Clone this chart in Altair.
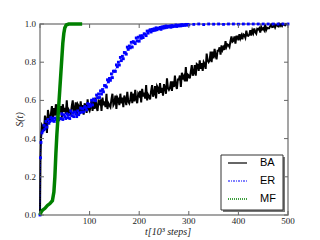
import altair as alt
import pandas as pd

# ---------------- data ----------------
BA_t = [0, 1] + list(range(2, 502, 2))
BA_s = [0.00, 0.30,
        0.40, 0.47, 0.46, 0.44, 0.52, 0.50, 0.43, 0.55, 0.51, 0.50,
        0.53, 0.57, 0.51, 0.56, 0.52, 0.58, 0.53, 0.51, 0.56, 0.55,
        0.57, 0.51, 0.58, 0.54, 0.56, 0.53, 0.60, 0.52, 0.55, 0.54,
        0.53, 0.57, 0.60, 0.54, 0.55, 0.59, 0.52, 0.58, 0.57, 0.54,
        0.595, 0.545, 0.575, 0.525, 0.585, 0.565, 0.535, 0.605, 0.555, 0.545,
        0.565, 0.605, 0.545, 0.595, 0.555, 0.615, 0.565, 0.545, 0.595, 0.585,
        0.605, 0.545, 0.615, 0.575, 0.595, 0.565, 0.635, 0.555, 0.585, 0.575,
        0.565, 0.605, 0.635, 0.575, 0.585, 0.625, 0.555, 0.615, 0.605, 0.575,
        0.635, 0.585, 0.615, 0.565, 0.625, 0.605, 0.575, 0.645, 0.595, 0.585,
        0.605, 0.645, 0.585, 0.635, 0.595, 0.655, 0.605, 0.585, 0.635, 0.625,
        0.65, 0.59, 0.66, 0.62, 0.64, 0.61, 0.68, 0.60, 0.63, 0.62,
        0.605, 0.65, 0.68, 0.62, 0.635, 0.675, 0.61, 0.675, 0.665, 0.635,
        0.69, 0.64, 0.665, 0.625, 0.685, 0.665, 0.635, 0.715, 0.665, 0.655,
        0.665, 0.70, 0.65, 0.70, 0.67, 0.73, 0.68, 0.66, 0.71, 0.71,
        0.73, 0.67, 0.745, 0.71, 0.725, 0.70, 0.775, 0.70, 0.735, 0.73,
        0.715, 0.75, 0.785, 0.73, 0.745, 0.785, 0.73, 0.79, 0.785, 0.755,
        0.81, 0.765, 0.795, 0.755, 0.80, 0.79, 0.765, 0.845, 0.81, 0.80,
        0.81, 0.855, 0.80, 0.855, 0.82, 0.87, 0.835, 0.815, 0.86, 0.86,
        0.878, 0.84, 0.888, 0.865, 0.878, 0.865, 0.91, 0.88, 0.893, 0.89,
        0.88, 0.91, 0.935, 0.907, 0.912, 0.935, 0.897, 0.935, 0.935, 0.915,
        0.947, 0.925, 0.94, 0.92, 0.946, 0.942, 0.929, 0.965, 0.94, 0.938,
        0.945, 0.967, 0.94, 0.966, 0.952, 0.977, 0.958, 0.95, 0.975, 0.972,
        0.978, 0.955, 0.984, 0.972, 0.978, 0.968, 0.997, 0.968, 0.98, 0.978,
        0.978, 0.988, 0.996, 0.984, 0.985, 0.995, 0.982, 0.995, 0.993, 0.988,
        1.0, 0.99, 0.998, 0.99, 1.0, 0.997, 0.993, 1.0, 0.998, 1.0]

ER_t = [0, 1] + list(range(2, 302, 2)) + list(range(310, 501, 10))
ER_s = [0.00, 0.30,
        0.38, 0.43, 0.44, 0.47, 0.45, 0.49, 0.46, 0.50, 0.48, 0.49,
        0.51, 0.495, 0.505, 0.49, 0.508, 0.50, 0.49, 0.513, 0.498, 0.505,
        0.505, 0.53, 0.50, 0.525, 0.515, 0.505, 0.53, 0.51, 0.525, 0.505,
        0.545, 0.52, 0.535, 0.515, 0.54, 0.53, 0.515, 0.545, 0.525, 0.535,
        0.56, 0.538, 0.557, 0.54, 0.568, 0.562, 0.55, 0.583, 0.567, 0.58,
        0.57, 0.601, 0.576, 0.607, 0.602, 0.598, 0.628, 0.614, 0.634, 0.615,
        0.65, 0.633, 0.657, 0.645, 0.678, 0.677, 0.67, 0.708, 0.697, 0.715,
        0.705, 0.739, 0.719, 0.753, 0.753, 0.752, 0.786, 0.776, 0.80, 0.785,
        0.825, 0.808, 0.831, 0.818, 0.851, 0.849, 0.842, 0.879, 0.867, 0.885,
        0.875, 0.904, 0.879, 0.908, 0.903, 0.897, 0.927, 0.911, 0.931, 0.91,
        0.938, 0.925, 0.939, 0.929, 0.949, 0.946, 0.939, 0.963, 0.952, 0.964,
        0.97, 0.958, 0.972, 0.965, 0.975, 0.967, 0.98, 0.97, 0.978, 0.975,
        0.982, 0.972, 0.985, 0.978, 0.987, 0.98, 0.99, 0.982, 0.988, 0.985,
        0.99, 0.983, 0.992, 0.986, 0.99, 0.988, 0.995, 0.987, 0.993, 0.99,
        0.995, 0.99, 0.997, 0.992, 0.996, 0.993, 0.998, 0.994, 0.998, 0.995,
        0.998, 1.0, 0.997, 1.0, 0.999, 1.0, 0.998, 1.0, 1.0, 0.999,
        1.0, 1.0, 1.0, 1.0, 1.0, 1.0, 1.0, 1.0, 1.0, 1.0]

MF_t = [0, 2, 5, 10, 15, 20, 25, 28, 30, 32, 34, 36, 38, 40, 42, 44,
        46, 48, 50, 53, 58, 65, 75, 85]
MF_s = [0.0, 0.015, 0.025, 0.035, 0.05, 0.06, 0.075, 0.12, 0.2, 0.32,
        0.42, 0.5, 0.58, 0.66, 0.74, 0.82, 0.9, 0.95, 0.98, 0.995, 1.0,
        1.0, 1.0, 1.0]

x_ticks = [0, 100, 200, 300, 400, 500]
x_labels = [100, 200, 300, 400, 500]
y_ticks = [0.0, 0.2, 0.4, 0.6, 0.8, 1.0]
y_labels = ["0.0", "0.2", "0.4", "0.6", "0.8", "1.0"]
legend_names = ["BA", "ER", "MF"]
x_title = "t[10³ steps]"
y_title = "S(t)"

W, H = 248, 191
SERIF = "Liberation Serif"
TXT = "#222"

ba = pd.DataFrame({"t": BA_t, "S": BA_s})
er = pd.DataFrame({"t": ER_t, "S": ER_s})
mf = pd.DataFrame({"t": MF_t, "S": MF_s})

xs = alt.Scale(domain=[0, 500], nice=False, zero=False)
ys = alt.Scale(domain=[0, 1], nice=False)


def X(f):
    return alt.X(f, scale=xs, axis=None)


def Y(f):
    return alt.Y(f, scale=ys, axis=None)


ba_line = alt.Chart(ba).mark_line(color="black", strokeWidth=2.0).encode(
    x=X("t:Q"), y=Y("S:Q"))
er_line = alt.Chart(er).mark_line(color="blue", strokeWidth=0.6,
                                  opacity=0.8,
                                  strokeDash=[3, 1, 1, 1]).encode(
    x=X("t:Q"), y=Y("S:Q"))
er_pts = alt.Chart(er).mark_square(color="blue", size=8, opacity=1).encode(
    x=X("t:Q"), y=Y("S:Q"))
mf_line = alt.Chart(mf).mark_line(color="green", strokeWidth=3.5).encode(
    x=X("t:Q"), y=Y("S:Q"))

# inward ticks on all four sides
xt = pd.DataFrame({"v": x_ticks})
yt = pd.DataFrame({"v": y_ticks})
tick_color = "#666"
xb = alt.Chart(xt).mark_rule(color=tick_color, strokeWidth=1).encode(
    x=X("v:Q"), y=alt.value(H - 4), y2=alt.value(H))
xtop = alt.Chart(xt).mark_rule(color=tick_color, strokeWidth=1).encode(
    x=X("v:Q"), y=alt.value(0), y2=alt.value(4))
yl = alt.Chart(yt).mark_rule(color=tick_color, strokeWidth=1).encode(
    y=Y("v:Q"), x=alt.value(0), x2=alt.value(4))
yr = alt.Chart(yt).mark_rule(color=tick_color, strokeWidth=1).encode(
    y=Y("v:Q"), x=alt.value(W - 4), x2=alt.value(W))

# tick labels
xl = alt.Chart(pd.DataFrame({"v": x_labels})).mark_text(
    font=SERIF, fontSize=9, color=TXT, baseline="top", align="center"
).encode(x=X("v:Q"), y=alt.value(H + 2), text="v:Q")
ylab = alt.Chart(pd.DataFrame({"v": y_ticks, "lab": y_labels})).mark_text(
    font=SERIF, fontSize=9, color=TXT, baseline="middle", align="right"
).encode(y=Y("v:Q"), x=alt.value(-4), text="lab:N")

one = pd.DataFrame({"k": [0]})
xtitle = alt.Chart(one).mark_text(text=x_title, font=SERIF, fontSize=10,
                                  fontStyle="italic", color=TXT,
                                  baseline="middle", align="center").encode(
    x=alt.value(W / 2 + 4), y=alt.value(H + 17))
ytitle = alt.Chart(one).mark_text(text=y_title, font=SERIF, fontSize=10,
                                  fontStyle="italic", color=TXT, angle=270,
                                  baseline="middle", align="center").encode(
    x=alt.value(-20), y=alt.value(H / 2))

# legend
lx0, lx1, ly0, ly1 = 181, 243, 131, 186
shadow = alt.Chart(one).mark_rect(color="#777").encode(
    x=alt.value(lx0 + 2), x2=alt.value(lx1 + 2),
    y=alt.value(ly0 + 2), y2=alt.value(ly1 + 2))
box = alt.Chart(one).mark_rect(fill="white", stroke="#333",
                               strokeWidth=1).encode(
    x=alt.value(lx0), x2=alt.value(lx1), y=alt.value(ly0), y2=alt.value(ly1))
rows = [139, 157, 175]
leg_ba = alt.Chart(one).mark_rule(color="black", strokeWidth=1.2).encode(
    x=alt.value(188), x2=alt.value(207), y=alt.value(rows[0]))
leg_er = alt.Chart(one).mark_rule(color="blue", strokeWidth=1,
                                  strokeDash=[2, 1, 1, 1]).encode(
    x=alt.value(188), x2=alt.value(207), y=alt.value(rows[1]))
leg_mf = alt.Chart(one).mark_rule(color="green", strokeWidth=1.5,
                                  strokeDash=[1, 1]).encode(
    x=alt.value(188), x2=alt.value(207), y=alt.value(rows[2]))
leg_txt = [
    alt.Chart(one).mark_text(text=name, align="left", baseline="middle",
                             font="Liberation Sans", fontSize=11,
                             color="black").encode(
        x=alt.value(220), y=alt.value(r))
    for name, r in zip(legend_names, rows)
]

chart = alt.layer(
    ba_line, er_line, er_pts, mf_line, xb, xtop, yl, yr, xl, ylab,
    xtitle, ytitle, shadow, box, leg_ba, leg_er, leg_mf, *leg_txt
).properties(
    width=W, height=H,
    padding={"left": 32, "top": 16, "right": 16, "bottom": 22},
    autosize=alt.AutoSizeParams(type="none"),
    background="white",
).configure_view(stroke="#888", strokeWidth=1.5)

chart.save("out.html", embed_options={"renderer": "svg", "actions": False})
